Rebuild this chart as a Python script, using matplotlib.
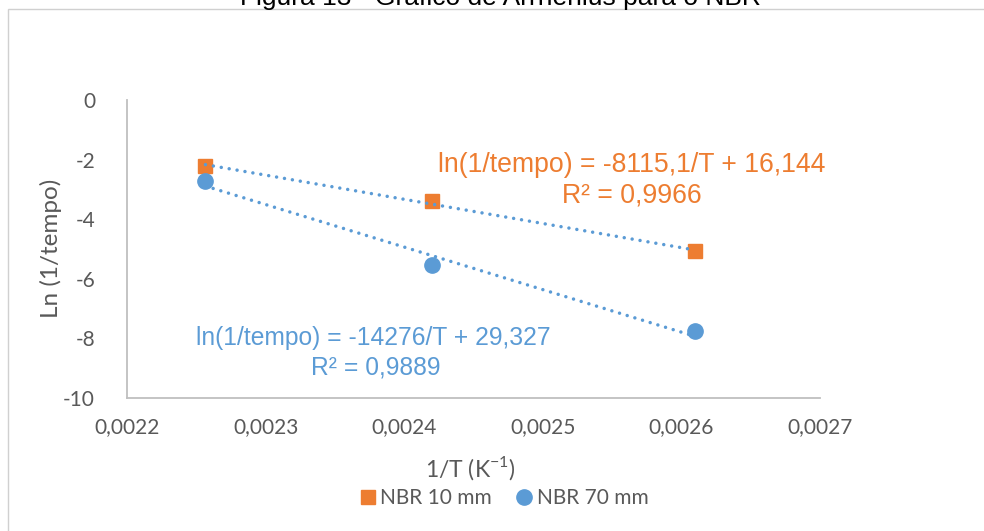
import matplotlib
matplotlib.use("Agg")
import matplotlib.pyplot as plt
import numpy as np
from matplotlib.patches import Rectangle
from matplotlib.lines import Line2D

# ---- data ----
x_inv_T = [0.0022566, 0.0024204, 0.0026100]       # 1/T (K^-1)
nbr10 = [-2.20, -3.39, -5.07]                      # Ln(1/tempo), NBR 10 mm
nbr70 = [-2.72, -5.54, -7.75]                      # Ln(1/tempo), NBR 70 mm
fit10 = (-8115.1, 16.144)                          # slope, intercept
fit70 = (-14276.0, 29.327)
eq10 = ["ln(1/tempo) = -8115,1/T + 16,144", "R² = 0,9966"]
eq70 = ["ln(1/tempo) = -14276/T + 29,327", "R² = 0,9889"]
xticks = [0.0022, 0.0023, 0.0024, 0.0025, 0.0026, 0.0027]
xtick_labels = ["0,0022", "0,0023", "0,0024", "0,0025", "0,0026", "0,0027"]
yticks = [0, -2, -4, -6, -8, -10]
ytick_labels = ["0", "-2", "-4", "-6", "-8", "-10"]
series_names = ["NBR 10 mm", "NBR 70 mm"]
title = "Figura 13 - Gráfico de Arrhenius para o NBR"

ORANGE = "#ED7D31"
BLUE = "#5B9BD5"
GRAY = "#595959"

W, H = 984, 531
fig = plt.figure(figsize=(W / 100, H / 100), dpi=100)

def fx(px):
    return px / W

def fy(py):
    return 1 - py / H

# outer chart frame (extends past the right and bottom edges)
fig.patches.append(Rectangle((fx(8), fy(600)), fx(1200), fy(9) - fy(600),
                             transform=fig.transFigure, fill=False,
                             edgecolor="#D0D0D0", linewidth=1.0))

# title (cut off at the top, as in the reference)
fig.text(fx(500), fy(5), title, ha="center", va="baseline",
         fontsize=19, family="Liberation Sans", color="black")

ax = fig.add_axes([fx(127), fy(398), fx(820) - fx(127), fy(100) - fy(398)])
ax.set_xlim(0.0022, 0.0027)
ax.set_ylim(-10, 0)

for s in ["top", "right"]:
    ax.spines[s].set_visible(False)
for s in ["left", "bottom"]:
    ax.spines[s].set_color("#BFBFBF")
    ax.spines[s].set_linewidth(1.3)

ax.set_xticks(xticks)
ax.set_xticklabels(xtick_labels)
ax.set_yticks(yticks)
ax.set_yticklabels(ytick_labels)
ax.tick_params(length=0, labelsize=15, labelcolor=GRAY, pad=14)
ax.tick_params(axis="y", pad=23)
for lab in ax.get_xticklabels() + ax.get_yticklabels():
    lab.set_family("Lato")

# trendlines
xs = np.array([x_inv_T[0], x_inv_T[-1]])
dot = (0, (0.01, 2.3))
for slope, inter in (fit10, fit70):
    ax.plot(xs, slope * xs + inter, color=BLUE, linewidth=2.5,
            linestyle=dot, dash_capstyle="round", zorder=3)

ax.plot(x_inv_T, nbr10, linestyle="none", marker="s", markersize=10,
        color=ORANGE, zorder=2)
ax.plot(x_inv_T, nbr70, linestyle="none", marker="o", markersize=11,
        color=BLUE, zorder=2)

# equations
fig.text(fx(631.5), fy(172), eq10[0], ha="center", va="baseline",
         fontsize=19.2, family="Liberation Sans", color=ORANGE)
fig.text(fx(631.5), fy(202), eq10[1], ha="center", va="baseline",
         fontsize=19.2, family="Liberation Sans", color=ORANGE)
fig.text(fx(373.5), fy(345), eq70[0], ha="center", va="baseline",
         fontsize=17.7, family="Liberation Sans", color=BLUE)
fig.text(fx(375.5), fy(375), eq70[1], ha="center", va="baseline",
         fontsize=17.7, family="Liberation Sans", color=BLUE)

# axis labels
plt.rcParams["mathtext.fontset"] = "custom"
plt.rcParams["mathtext.rm"] = "Lato"
fig.text(fx(51), fy(248), "Ln (1/tempo)", rotation=90, ha="center",
         va="center", fontsize=17.5, family="Lato", color=GRAY)
fig.text(fx(470), fy(468), r"1/T (K$^{\mathregular{-1}}$)", ha="center",
         va="center", fontsize=16.5, family="Lato", color=GRAY)

# legend
handles = [Line2D([], [], linestyle="none", marker="s", markersize=10, color=ORANGE),
           Line2D([], [], linestyle="none", marker="o", markersize=11, color=BLUE)]
leg = fig.legend(handles, series_names, loc="center", bbox_to_anchor=(fx(505), fy(498)),
                 ncol=2, frameon=False, handlelength=0.6,
                 handletextpad=0.3, columnspacing=1.25,
                 prop={"family": "Lato", "size": 15})
for t in leg.get_texts():
    t.set_color(GRAY)

fig.savefig("out.png", dpi=100)
